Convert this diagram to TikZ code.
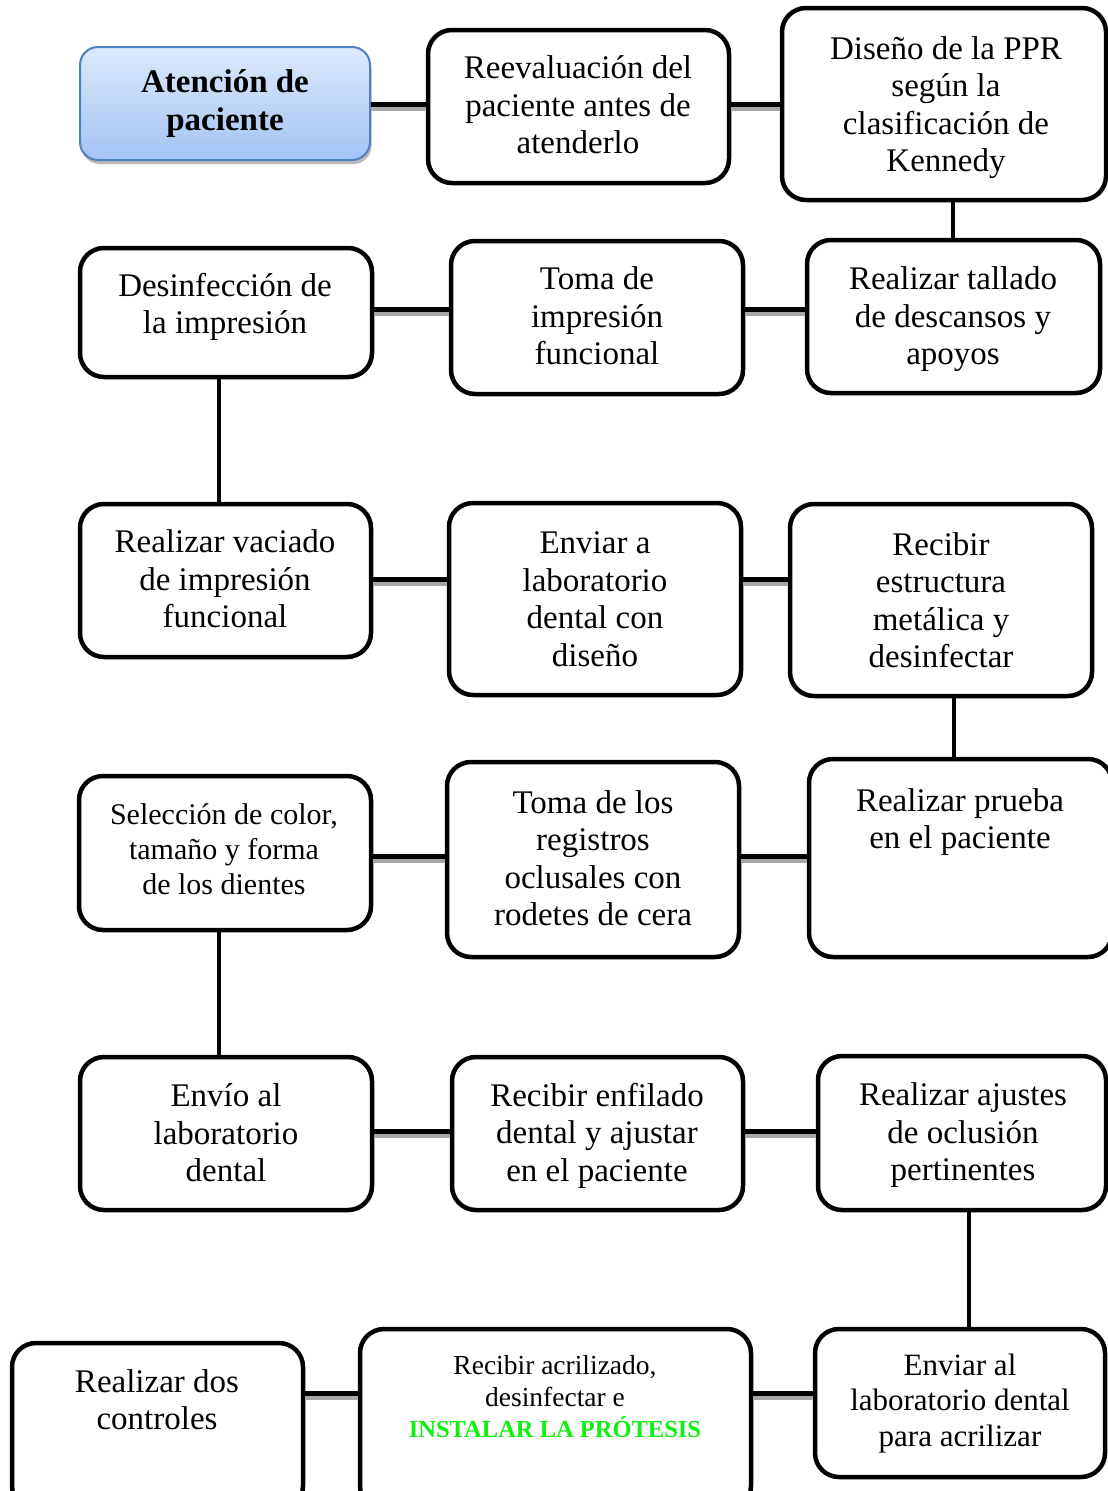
\documentclass[tikz,border=0pt]{standalone}
\usepackage{fontspec}
\setmainfont{Liberation Serif}
\usetikzlibrary{shadows}

\definecolor{startTop}{HTML}{DDE9FC}
\definecolor{startBot}{HTML}{A3C3F4}
\definecolor{startEdge}{HTML}{4F81BD}
\definecolor{installgreen}{RGB}{16,240,16}
\definecolor{linkshade}{HTML}{A6A6A6}

\tikzset{
  stepbox/.style={draw=black, line width=4.5pt, rounded corners=24pt, fill=white, inner sep=0pt},
  startbox/.style={draw=startEdge, line width=2pt, rounded corners=18pt,
    top color=startTop, bottom color=startBot, inner sep=0pt,
    drop shadow={shadow xshift=1.5pt, shadow yshift=-4pt, opacity=0.45, fill=black!60}},
  txt/.style={align=center, inner sep=0pt, yshift=-5pt, font=\fontsize{33}{37.5}\selectfont,
    execute at begin node=\strut, execute at end node=\strut},
  txtsmall/.style={txt, font=\fontsize{30}{35}\selectfont},
  txtmid/.style={txt, font=\fontsize{31}{35.5}\selectfont},
  txttiny/.style={txt, font=\fontsize{27.5}{31.5}\selectfont},
  hline/.style={line width=5pt, black},
  hshade/.style={line width=5pt, linkshade},
  vline/.style={line width=4.5pt, black},
}

% rounded box from its corner coordinates (left, top, right, bottom)
\newcommand\card[6][stepbox]{%
  \node[#1, minimum width={#5pt-#3pt}, minimum height={#6pt-#4pt}]
    (#2) at ({(#3+#5)/2},{(#4+#6)/2}) {};}
% horizontal link with its grey shade, at height #3
\newcommand\hlink[3]{%
  \draw[hshade] (#1.east |- 0,{#3+4}) -- (#2.west |- 0,{#3+4});
  \draw[hline] (#1.east |- 0,#3) -- (#2.west |- 0,#3);}
% vertical link at abscissa #3
\newcommand\vlink[3]{%
  \draw[vline] (#1.south -| #3,0) -- (#2.north -| #3,0);}

\begin{document}
\begin{tikzpicture}[x=1pt, y=-1pt]
\useasboundingbox (0,0) rectangle (1108,1491);

% ---- boxes ----
\card[startbox]{A}{80}{47}{370}{160}
\card{B}{428}{30}{729}{183}
\card{C}{782}{8}{1106}{200}
\card{F}{80}{248}{372}{377}
\card{E}{451}{241}{743}{394}
\card{D}{807}{240}{1100}{393}
\card{G}{80}{504}{371}{657}
\card{H}{449}{503}{741}{695}
\card{I}{790}{504}{1092}{696}
\card{L}{79}{776}{371}{930}
\card{K}{447}{762}{739}{957}
\card{J}{809}{759}{1112}{957}
\card{M}{80}{1057}{372}{1210}
\card{N}{452}{1057}{743}{1210}
\card{O}{818}{1056}{1106}{1210}
\card{R}{12}{1343}{303}{1510}
\card{Q}{360}{1329}{751}{1510}
\card{P}{815}{1329}{1105}{1477}

% ---- links ----
\hlink{A}{B}{104}
\hlink{B}{C}{104}
\vlink{C}{D}{953}
\hlink{F}{E}{309}
\hlink{E}{D}{309}
\vlink{F}{G}{219}
\hlink{G}{H}{579}
\hlink{H}{I}{579}
\vlink{I}{J}{954}
\hlink{L}{K}{856}
\hlink{K}{J}{856}
\vlink{L}{M}{219}
\hlink{M}{N}{1131}
\hlink{N}{O}{1131}
\vlink{O}{P}{969}
\hlink{R}{Q}{1393}
\hlink{Q}{P}{1393}

% ---- texts ----
\node[txt, font=\fontsize{33}{38}\bfseries] (A-t) at (225,101) {Atención de\\paciente};
\node[txt] (B-t) at (578,105.5) {Reevaluación del\\paciente antes de\\atenderlo};
\node[txt] (C-t) at (946,104.5) {Diseño de la PPR\\según la\\clasificación de\\Kennedy};
\node[txt] (F-t) at (225,304) {Desinfección de\\la impresión};
\node[txt] (E-t) at (597,316.5) {Toma de\\impresión\\funcional};
\node[txt] (D-t) at (953,316.5) {Realizar tallado\\de descansos y\\apoyos};
\node[txt] (G-t) at (225,579.5) {Realizar vaciado\\de impresión\\funcional};
\node[txt] (H-t) at (595,599.5) {Enviar a\\laboratorio\\dental con\\diseño};
\node[txt] (I-t) at (941,600.5) {Recibir\\estructura\\metálica y\\desinfectar};
\node[txtsmall] (L-t) at (224,849) {Selección de color,\\tamaño y forma\\de los dientes};
\node[txt] (K-t) at (593,858.5) {Toma de los\\registros\\oclusales con\\rodetes de cera};
\node[txt] (J-t) at (960,819) {Realizar prueba\\en el paciente};
\node[txt] (M-t) at (226,1133.5) {Envío al\\laboratorio\\dental};
\node[txt] (N-t) at (597,1132.5) {Recibir enfilado\\dental y ajustar\\en el paciente};
\node[txt] (O-t) at (963,1132.5) {Realizar ajustes\\de oclusión\\pertinentes};
\node[txt] (R-t) at (157,1400) {Realizar dos\\controles};
\node[txttiny] (Q-t) at (555,1396.5) {Recibir acrilizado,\\desinfectar e\\{\color{installgreen}\bfseries\fontsize{24.5}{31.5}\selectfont INSTALAR LA PRÓTESIS}};
\node[txtmid] (P-t) at (960,1400.5) {Enviar al\\laboratorio dental\\para acrilizar};
\end{tikzpicture}
\end{document}
